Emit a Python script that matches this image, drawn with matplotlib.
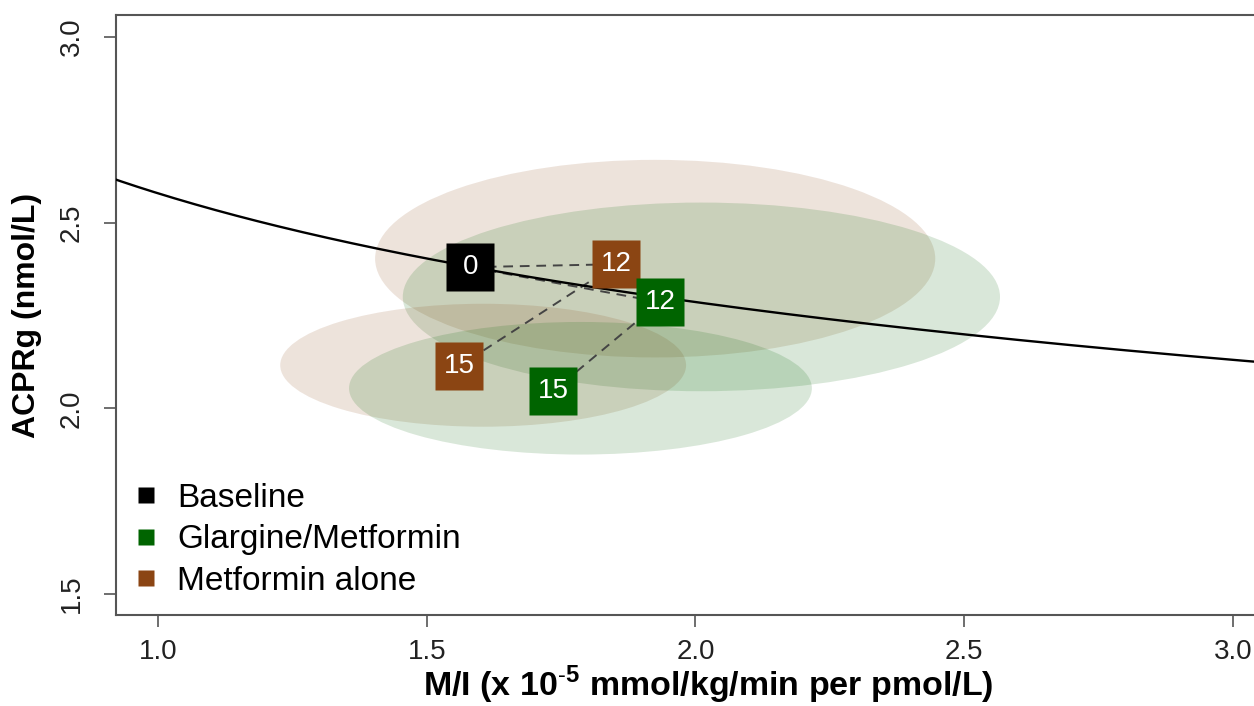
import numpy as np
import matplotlib
matplotlib.use("Agg")
import matplotlib.pyplot as plt
from matplotlib.patches import Ellipse
from matplotlib.lines import Line2D

plt.rcParams['font.family'] = ['Liberation Sans', 'DejaVu Sans']
plt.rcParams['mathtext.fontset'] = 'custom'
plt.rcParams['mathtext.rm'] = 'Liberation Sans'
plt.rcParams['mathtext.bf'] = 'Liberation Sans:bold'

# group means (M/I, ACPRg) with the month label
labels = ["0", "12", "12", "15", "15"]
groups = ["Baseline", "Metformin alone", "Glargine/Metformin", "Metformin alone", "Glargine/Metformin"]
mi_vals = [1.581, 1.853, 1.934, 1.560, 1.735]
acpr_vals = [2.380, 2.388, 2.286, 2.113, 2.046]

# dashed paths between the means (index pairs)
links = [(0, 1), (0, 2), (1, 3), (2, 4)]

# spread ellipses: centre x, centre y, width, height
ell_group = ["Metformin alone", "Glargine/Metformin", "Metformin alone", "Glargine/Metformin"]
ell_cx = [1.925, 2.011, 1.605, 1.786]
ell_cy = [2.403, 2.300, 2.116, 2.054]
ell_w = [1.042, 1.111, 0.755, 0.861]
ell_h = [0.532, 0.508, 0.331, 0.357]

# reference curve ACPRg = a * (M/I)^b
curve_a = 2.579
curve_b = -0.1739

colors = {"Baseline": "black", "Glargine/Metformin": "#006400", "Metformin alone": "#8B4513"}
legend_order = ["Baseline", "Glargine/Metformin", "Metformin alone"]

fig = plt.figure(figsize=(12.54, 7.06), dpi=100)
ax = fig.add_axes([116/1254, 1-615/706, (1304-116)/1254, (615-15)/706])
ax.set_xlim(0.922, 3.132)
ax.set_ylim(1.4435, 3.059)

for cx, cy, w, h, g in zip(ell_cx, ell_cy, ell_w, ell_h, ell_group):
    ax.add_patch(Ellipse((cx, cy), w, h, facecolor=colors[g], alpha=0.15,
                         edgecolor='none', zorder=1))

xs = np.linspace(0.9, 3.2, 300)
ax.plot(xs, curve_a * xs**curve_b, color='black', lw=1.7, zorder=3)

for i, j in links:
    ax.plot([mi_vals[i], mi_vals[j]], [acpr_vals[i], acpr_vals[j]],
            color='#444444', lw=1.4, ls=(0, (5, 3.5)), zorder=2)

for x, y, lab, g in zip(mi_vals, acpr_vals, labels, groups):
    ax.plot(x, y, marker='s', markersize=34, color=colors[g], mec='none', zorder=4)
    ax.text(x, y, lab, color='white', fontsize=20, ha='center', va='center', zorder=5)

handles = [Line2D([], [], marker='s', ls='none', markersize=11.5, color=colors[g], mec='none')
           for g in legend_order]
ax.legend(handles, legend_order, loc='upper left', bbox_to_anchor=(0.0126, 0.22),
          frameon=False, fontsize=24, handletextpad=0.48, labelspacing=0.31,
          handlelength=0.9, borderaxespad=0, borderpad=0)

ax.set_xticks([1.0, 1.5, 2.0, 2.5, 3.0])
ax.set_yticks([1.5, 2.0, 2.5, 3.0])
ax.set_xticklabels(["1.0", "1.5", "2.0", "2.5", "3.0"])
ax.set_yticklabels(["1.5", "2.0", "2.5", "3.0"], rotation=90, va='center')
ax.tick_params(axis='both', labelsize=20, length=8.5, width=1.2, color='#555555', labelcolor='#222222')
ax.tick_params(axis='x', pad=9)
ax.tick_params(axis='y', pad=14)
for s in ax.spines.values():
    s.set_color('#555555')
    s.set_linewidth(1.5)
ax.spines['right'].set_visible(False)

ax.set_xlabel(r'M/I (x 10$^{\mathbf{\text{-}5}}$ mmol/kg/min per pmol/L)', fontsize=24.5,
              fontweight='bold')
ax.xaxis.set_label_coords((708-116)/1188, -0.082)
ax.set_ylabel('ACPRg (nmol/L)', fontsize=23, fontweight='bold')
ax.yaxis.set_label_coords(-0.062, 0.5)

fig.savefig('out.png', dpi=100)
